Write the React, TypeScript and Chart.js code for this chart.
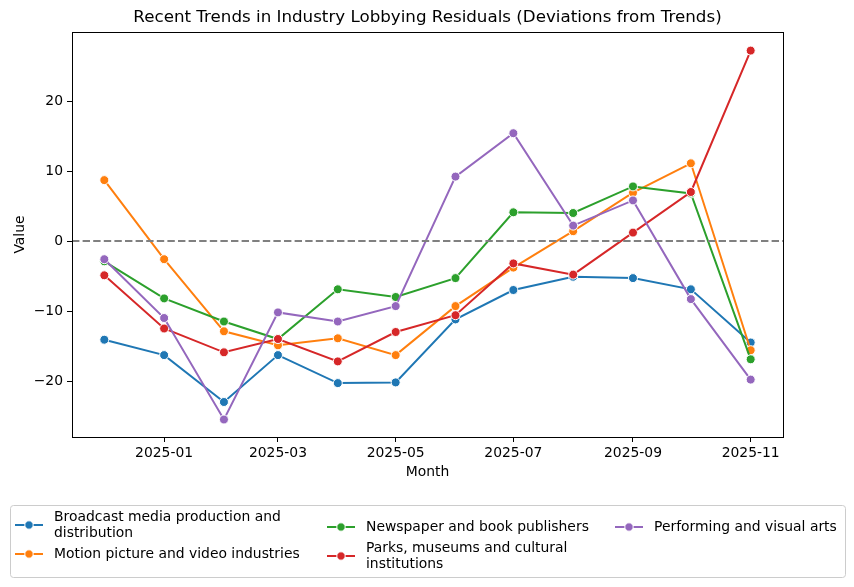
import React, { useEffect, useRef } from "react";
import { Chart, registerables } from "chart.js";
Chart.register(...registerables);

const MONTHS = ["2024-12", "2025-01", "2025-02", "2025-03", "2025-04", "2025-05", "2025-06", "2025-07", "2025-08", "2025-09", "2025-10", "2025-11"];
const X_TICKS = ["2025-01", "2025-03", "2025-05", "2025-07", "2025-09", "2025-11"];
const Y_TICKS = [-20, -10, 0, 10, 20];

const SERIES_NAMES = [
  "Broadcast media production and distribution",
  "Motion picture and video industries",
  "Newspaper and book publishers",
  "Parks, museums and cultural institutions",
  "Performing and visual arts",
];
const LEGEND_LINES = [
  ["Broadcast media production and", "distribution"],
  ["Motion picture and video industries"],
  ["Newspaper and book publishers"],
  ["Parks, museums and cultural", "institutions"],
  ["Performing and visual arts"],
];
const COLORS = ["#1f77b4", "#ff7f0e", "#2ca02c", "#d62728", "#9467bd"];

const broadcast = [-14.1, -16.3, -23.0, -16.3, -20.3, -20.2, -11.2, -7.0, -5.1, -5.3, -6.9, -14.5];
const motionPicture = [8.7, -2.6, -12.9, -14.9, -13.9, -16.3, -9.3, -3.8, 1.4, 6.9, 11.1, -15.6];
const newspaper = [-2.9, -8.2, -11.5, -14.0, -6.9, -8.0, -5.3, 4.1, 4.0, 7.8, 6.8, -16.9];
const parks = [-4.9, -12.5, -15.9, -14.0, -17.2, -13.0, -10.6, -3.2, -4.8, 1.2, 7.0, 27.2];
const performing = [-2.6, -11.0, -25.5, -10.2, -11.5, -9.3, 9.2, 15.4, 2.2, 5.8, -8.3, -19.8];

const SERIES = [broadcast, motionPicture, newspaper, parks, performing];

const TITLE = "Recent Trends in Industry Lobbying Residuals (Deviations from Trends)";
const X_LABEL = "Month";
const Y_LABEL = "Value";

const FONT = "'DejaVu Sans', sans-serif";
const FS = 13.9;

function monthToMs(m: string): number {
  const [y, mo] = m.split("-").map(Number);
  return Date.UTC(y, mo - 1, 1);
}
function msToLabel(v: number): string {
  const d = new Date(v);
  return d.getUTCFullYear() + "-" + String(d.getUTCMonth() + 1).padStart(2, "0");
}

export default function App() {
  const ref = useRef<HTMLCanvasElement | null>(null);

  useEffect(() => {
    if (!ref.current) return;
    const xs = MONTHS.map(monthToMs);
    const span = xs[xs.length - 1] - xs[0];
    const xMin = xs[0] - span * 0.05;
    const xMax = xs[xs.length - 1] + span * 0.05;

    const decor = {
      id: "decor",
      afterDatasetsDraw(chart: any) {
        const { ctx, chartArea } = chart;
        const ys = chart.scales.y;
        const y0 = ys.getPixelForValue(0);
        ctx.save();
        ctx.strokeStyle = "#808080";
        ctx.lineWidth = 2;
        ctx.setLineDash([7.4, 3.2]);
        ctx.beginPath();
        ctx.moveTo(chartArea.left, y0);
        ctx.lineTo(chartArea.right, y0);
        ctx.stroke();
        ctx.setLineDash([]);
        ctx.strokeStyle = "#000";
        ctx.lineWidth = 1;
        ctx.strokeRect(
          Math.round(chartArea.left) + 0.5,
          Math.round(chartArea.top) + 0.5,
          Math.round(chartArea.right - chartArea.left),
          Math.round(chartArea.bottom - chartArea.top)
        );
        ctx.restore();
      },
      afterDraw(chart: any) {
        const { ctx, chartArea } = chart;
        ctx.save();
        ctx.fillStyle = "#000";
        ctx.font = "16.7px " + FONT;
        ctx.textAlign = "center";
        ctx.textBaseline = "middle";
        ctx.fillText(TITLE, (chartArea.left + chartArea.right) / 2, 18);

        const bx = 10.5, by = 505.5, bw = 835, bh = 72, r = 3;
        ctx.fillStyle = "rgba(255,255,255,0.8)";
        ctx.strokeStyle = "#cccccc";
        ctx.lineWidth = 1;
        ctx.beginPath();
        ctx.moveTo(bx + r, by);
        ctx.lineTo(bx + bw - r, by);
        ctx.arcTo(bx + bw, by, bx + bw, by + r, r);
        ctx.lineTo(bx + bw, by + bh - r);
        ctx.arcTo(bx + bw, by + bh, bx + bw - r, by + bh, r);
        ctx.lineTo(bx + r, by + bh);
        ctx.arcTo(bx, by + bh, bx, by + bh - r, r);
        ctx.lineTo(bx, by + r);
        ctx.arcTo(bx, by, bx + r, by, r);
        ctx.closePath();
        ctx.fill();
        ctx.stroke();

        const handleX = [15, 15, 327, 327, 615];
        const centerY = [525, 554, 527, 556, 527];
        ctx.font = FS + "px " + FONT;
        ctx.textAlign = "left";
        ctx.textBaseline = "middle";
        LEGEND_LINES.forEach((lines, i) => {
          const hx = handleX[i];
          const cy = centerY[i];
          ctx.strokeStyle = COLORS[i];
          ctx.lineWidth = 2;
          ctx.beginPath();
          ctx.moveTo(hx, cy);
          ctx.lineTo(hx + 28, cy);
          ctx.stroke();
          ctx.beginPath();
          ctx.arc(hx + 14, cy, 4.2, 0, Math.PI * 2);
          ctx.fillStyle = COLORS[i];
          ctx.fill();
          ctx.strokeStyle = "#fff";
          ctx.lineWidth = 1;
          ctx.stroke();
          ctx.fillStyle = "#000";
          const tx = hx + 39;
          const lh = 16;
          const startY = cy - ((lines.length - 1) * lh) / 2;
          lines.forEach((ln, k) => ctx.fillText(ln, tx, startY + k * lh));
        });
        ctx.restore();
      },
    };

    const chart = new Chart(ref.current, {
      type: "line",
      data: {
        datasets: SERIES.map((vals, i) => ({
          label: SERIES_NAMES[i],
          data: vals.map((v, j) => ({ x: xs[j], y: v })),
          borderColor: COLORS[i],
          backgroundColor: COLORS[i],
          pointBackgroundColor: COLORS[i],
          pointBorderColor: "#ffffff",
          pointBorderWidth: 1,
          pointRadius: 4.5,
          borderWidth: 2,
          tension: 0,
          fill: false,
          order: SERIES.length - i,
        })),
      },
      options: {
        responsive: false,
        animation: false,
        devicePixelRatio: 1,
        layout: { padding: { left: 0, right: 71, top: 32, bottom: 106 } },
        plugins: {
          legend: { display: false },
          title: { display: false },
          tooltip: { enabled: false },
        },
        scales: {
          x: {
            type: "linear",
            min: xMin,
            max: xMax,
            afterFit(scale: any) {
              scale.height = 44;
            },
            afterBuildTicks(scale: any) {
              scale.ticks = X_TICKS.map((t) => ({ value: monthToMs(t) }));
            },
            ticks: {
              autoSkip: false,
              maxRotation: 0,
              minRotation: 0,
              padding: 3,
              color: "#000",
              font: { family: FONT, size: FS },
              callback: (v: any) => msToLabel(Number(v)),
            },
            grid: {
              drawOnChartArea: false,
              drawTicks: true,
              tickLength: 5,
              tickColor: "#000",
              tickWidth: 1,
            },
            border: { display: false },
            title: {
              display: true,
              text: X_LABEL,
              color: "#000",
              font: { family: FONT, size: FS },
              padding: { top: 0, bottom: 0 },
            },
          },
          y: {
            type: "linear",
            min: -28.0,
            max: 29.86,
            afterFit(scale: any) {
              scale.width = 72;
            },
            afterBuildTicks(scale: any) {
              scale.ticks = Y_TICKS.map((v) => ({ value: v }));
            },
            ticks: {
              padding: 4,
              color: "#000",
              font: { family: FONT, size: FS },
              callback: (v: any) => (Number(v) < 0 ? "\u2212" + Math.abs(Number(v)) : String(v)),
            },
            grid: {
              drawOnChartArea: false,
              drawTicks: true,
              tickLength: 5,
              tickColor: "#000",
              tickWidth: 1,
            },
            border: { display: false },
            title: {
              display: true,
              text: Y_LABEL,
              color: "#000",
              font: { family: FONT, size: FS },
              padding: { top: 12, bottom: 0 },
            },
          },
        },
      },
      plugins: [decor],
    } as any);
    return () => chart.destroy();
  }, []);

  return (
    <div style={{ position: "fixed", left: 0, top: 0, width: 854, height: 587, background: "#fff" }}>
      <canvas ref={ref} width={854} height={587} style={{ width: 854, height: 587, display: "block" }} />
    </div>
  );
}
